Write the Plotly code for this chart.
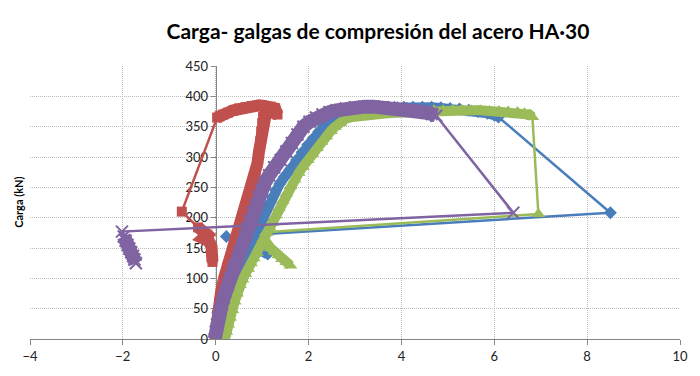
import plotly.graph_objects as go

# ---------------------------------------------------------------
# Load (kN) versus compression strain-gauge reading, four gauges.
# Each gauge: loading curve, jump after gauge failure, unloading tail.
# ---------------------------------------------------------------

# Gauge 1 (blue, diamonds)
blue_load_x = [0.05, 0.08, 0.12, 0.17, 0.22, 0.28, 0.34, 0.40, 0.46, 0.53, 0.60, 0.67, 0.74,
               0.81, 0.88, 0.95, 1.01, 1.08, 1.15, 1.22, 1.29, 1.38, 1.48, 1.60, 1.74, 1.86,
               1.98, 2.10, 2.22, 2.34, 2.46, 2.58, 2.72, 2.88, 3.05, 3.25, 3.45, 3.65, 3.85,
               4.05, 4.25, 4.45, 4.65, 4.85, 5.05, 5.25, 5.45, 5.65, 5.85, 6.00, 6.09]
blue_load_y = [0, 12, 24, 36, 50, 64, 78, 91, 104, 116, 128, 138, 148,
               160, 172, 185, 197, 210, 222, 234, 245, 256, 267, 279, 295, 308,
               320, 331, 342, 351, 359, 365, 370, 374, 377, 379, 380, 381, 382,
               382, 382, 382, 382, 381, 380, 379, 377, 375, 372, 369, 366]
blue_drop_x = [8.50, 0.23]
blue_drop_y = [208, 169]
blue_tail_x = [0.97, 1.05, 1.12]
blue_tail_y = [146, 143, 140]

# Gauge 2 (red, squares)
red_load_x = [-0.02, 0.00, 0.03, 0.07, 0.12, 0.18, 0.25, 0.33, 0.40, 0.48, 0.55, 0.63, 0.72,
              0.80, 0.86, 0.90, 0.93, 0.96, 0.98, 1.00, 1.02, 1.08, 1.16, 1.25, 1.33, 1.28,
              1.18, 1.05, 0.92, 0.78, 0.64, 0.50, 0.38, 0.26, 0.16, 0.08, 0.03]
red_load_y = [0, 20, 40, 60, 80, 100, 118, 134, 150, 169, 193, 218, 236,
              252, 272, 290, 308, 326, 342, 356, 366, 372, 375, 374, 370, 380,
              383, 384, 385, 384, 382, 380, 377, 373, 370, 367, 365]
red_drop_x = [-0.73]
red_drop_y = [210]
red_tail_x = [-0.38, -0.28, -0.18, -0.27, -0.15, -0.09, -0.08, -0.07, -0.07]
red_tail_y = [184, 174, 172, 166, 162, 152, 142, 132, 127]

# Gauge 3 (green, triangles)
green_load_x = [0.20, 0.23, 0.27, 0.31, 0.36, 0.41, 0.46, 0.52, 0.58, 0.64, 0.70, 0.76, 0.82,
                0.89, 0.96, 1.03, 1.10, 1.16, 1.22, 1.29, 1.36, 1.44, 1.52, 1.61, 1.70, 1.79,
                1.88, 1.98, 2.08, 2.18, 2.28, 2.38, 2.48, 2.57, 2.68, 2.80, 2.95, 3.10, 3.30,
                3.50, 3.70, 3.90, 4.10, 4.30, 4.50, 4.70, 4.90, 5.10, 5.30, 5.50, 5.70, 5.90,
                6.10, 6.30, 6.50, 6.65, 6.76, 6.82]
green_load_y = [0, 12, 24, 35, 48, 62, 75, 89, 98, 107, 116, 125, 133,
                142, 153, 164, 175, 184, 192, 204, 216, 228, 240, 252, 263, 274,
                284, 295, 305, 315, 325, 334, 343, 350, 356, 363, 366, 368, 370,
                371, 372, 373, 374, 375, 376, 377, 377, 378, 378, 377, 377, 376,
                376, 375, 374, 372, 370, 366]
green_drop_x = [6.95, 1.08]
green_drop_y = [206, 176]
green_tail_x = [1.03, 1.10, 1.18, 1.27, 1.35, 1.43, 1.52, 1.61]
green_tail_y = [166, 157, 150, 144, 138, 132, 127, 121]

# Gauge 4 (purple, crosses)
purple_load_x = [-0.02, 0.00, 0.03, 0.05, 0.09, 0.13, 0.17, 0.22, 0.26, 0.30, 0.35, 0.40, 0.46,
                 0.52, 0.57, 0.62, 0.67, 0.72, 0.79, 0.86, 0.92, 0.98, 1.06, 1.15, 1.26, 1.40,
                 1.52, 1.64, 1.76, 1.89, 2.02, 2.16, 2.30, 2.45, 2.60, 2.80, 3.00, 3.20, 3.40,
                 3.60, 3.80, 4.00, 4.20, 4.40, 4.55, 4.65, 4.75]
purple_load_y = [0, 12, 24, 35, 46, 57, 68, 79, 89, 100, 111, 121, 132,
                 142, 155, 168, 182, 195, 208, 221, 234, 246, 258, 270, 283, 295,
                 309, 323, 337, 350, 358, 365, 370, 374, 377, 380, 382, 383, 383,
                 382, 381, 380, 378, 376, 373, 371, 368]
purple_drop_x = [6.41, -2.02]
purple_drop_y = [208, 177]
purple_tail_x = [-1.98, -1.94, -1.90, -1.86, -1.82, -1.78, -1.75, -1.72]
purple_tail_y = [169, 162, 155, 149, 143, 137, 131, 125]

# axis settings
x_range = [-4, 10]
x_step = 2
y_range = [0, 450]
y_step = 50

series = [
    # name, colour, marker, marker size, band width, data
    ("Galga 1", "#4A7EBB", "diamond", 10, 10,
     blue_load_x, blue_load_y, blue_drop_x, blue_drop_y, blue_tail_x, blue_tail_y),
    ("Galga 2", "#C0504D", "square", 10, 12,
     red_load_x, red_load_y, red_drop_x, red_drop_y, red_tail_x, red_tail_y),
    ("Galga 3", "#9BBB59", "triangle-up", 12, 10,
     green_load_x, green_load_y, green_drop_x, green_drop_y, green_tail_x, green_tail_y),
    ("Galga 4", "#8064A2", "x-thin", 12, 14,
     purple_load_x, purple_load_y, purple_drop_x, purple_drop_y, purple_tail_x, purple_tail_y),
]

fig = go.Figure()
for name, col, sym, msize, band, lx, ly, dx, dy, tx, ty in series:
    # dense readings merge into a solid band
    for bx, by in ((lx, ly), (tx, ty)):
        fig.add_trace(go.Scatter(x=bx, y=by, mode="lines", showlegend=False,
                                 line=dict(color=col, width=band), hoverinfo="skip"))
    marker = dict(symbol=sym, size=msize, color=col)
    if sym == "x-thin":
        marker["line"] = dict(color=col, width=2)
    fig.add_trace(go.Scatter(x=lx + dx + tx, y=ly + dy + ty, mode="lines+markers", name=name,
                             showlegend=False, line=dict(color=col, width=2.5), marker=marker))

axis_font = dict(family="Lato", size=13, color="#222222")
grid = dict(showgrid=True, gridcolor="#bdbdbd", griddash="1px,1px", gridwidth=1,
            zeroline=False, showline=True, linecolor="#868686", linewidth=1,
            ticks="outside", tickcolor="#868686", ticklen=5, tickfont=axis_font,
            layer="below traces")

fig.update_layout(
    width=700, height=376,
    margin=dict(l=30, r=14, t=66, b=31),
    paper_bgcolor="white", plot_bgcolor="white",
    showlegend=False,
    title=dict(text="<b>Carga- galgas de compresión del acero HA·30</b>",
               font=dict(family="Lato", size=21, color="black"),
               x=0.54, xref="container", xanchor="center",
               y=0.915, yref="container", yanchor="middle"),
    xaxis=dict(range=x_range, dtick=x_step, tick0=0, domain=[0, 1], **grid),
    yaxis=dict(range=y_range, dtick=y_step, tick0=0, anchor="free",
               position=(0 - x_range[0]) / (x_range[1] - x_range[0]), **grid),
    annotations=[dict(text="<b>Carga (kN)</b>", textangle=-90, showarrow=False,
                      xref="paper", yref="paper", x=-0.018, y=0.5,
                      xanchor="center", yanchor="middle",
                      font=dict(family="Lato", size=11, color="black"))],
)

fig.write_html("out.html")
